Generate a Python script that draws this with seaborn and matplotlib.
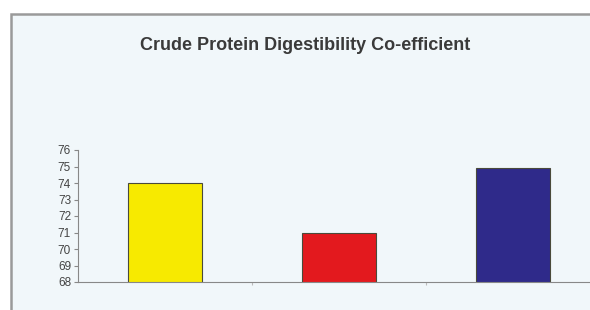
import seaborn as sns
import matplotlib.pyplot as plt
import pandas as pd
from matplotlib.patches import Rectangle

sns.set_style("white")
plt.rcParams['font.family'] = ['Liberation Sans', 'DejaVu Sans']

# data
groups = ["A", "B", "C"]
values = [74.0, 71.0, 74.9]
bar_colors = ["#f7ea00", "#e3191e", "#2f2a8a"]
yticks = list(range(68, 77))

df = pd.DataFrame({"group": groups, "value": values})

fig = plt.figure(figsize=(5.9, 3.1), dpi=100)
fig.patch.set_facecolor("white")

# chart area frame (light panel with grey border)
fig.patches.append(Rectangle((11 / 590, -0.1), 1.0, (310 - 14) / 310 + 0.1,
                             transform=fig.transFigure, facecolor="#f1f7fa",
                             edgecolor="#9a9a9a", linewidth=1.8, zorder=-5))

ax = fig.add_axes([78 / 590, 28 / 310, 512 / 590, 132 / 310])
ax.set_facecolor("none")
ax.set_zorder(2)

sns.barplot(data=df, x="group", y="value", hue="group", palette=bar_colors,
            saturation=1, width=0.42, edgecolor="#4a4a3a", linewidth=0.8,
            legend=False, ax=ax)

ax.set_ylim(68, 76)
ax.set_xlim(-0.5, -0.5 + 512 / 174)
ax.set_yticks(yticks)
ax.set_yticklabels([str(t) for t in yticks], fontsize=8.5, color="#444444")
ax.set_xticks([0.5, 1.5])
ax.set_xticklabels([])
ax.tick_params(axis="y", length=3, width=0.8, color="#888888", pad=2, left=True)
ax.tick_params(axis="x", length=2, width=0.8, color="#bbbbbb", direction="out", bottom=True)
ax.set_xlabel("")
ax.set_ylabel("")

for s in ["top", "right"]:
    ax.spines[s].set_visible(False)
ax.spines["left"].set_color("#888888")
ax.spines["bottom"].set_color("#888888")
ax.spines["left"].set_linewidth(0.8)
ax.spines["bottom"].set_linewidth(0.8)

fig.text(305 / 590, 1 - 45 / 310, "Crude Protein Digestibility Co-efficient",
         ha="center", va="center", fontsize=13, fontweight="bold", color="#3a3a3a")

plt.savefig("out.png", dpi=100)
